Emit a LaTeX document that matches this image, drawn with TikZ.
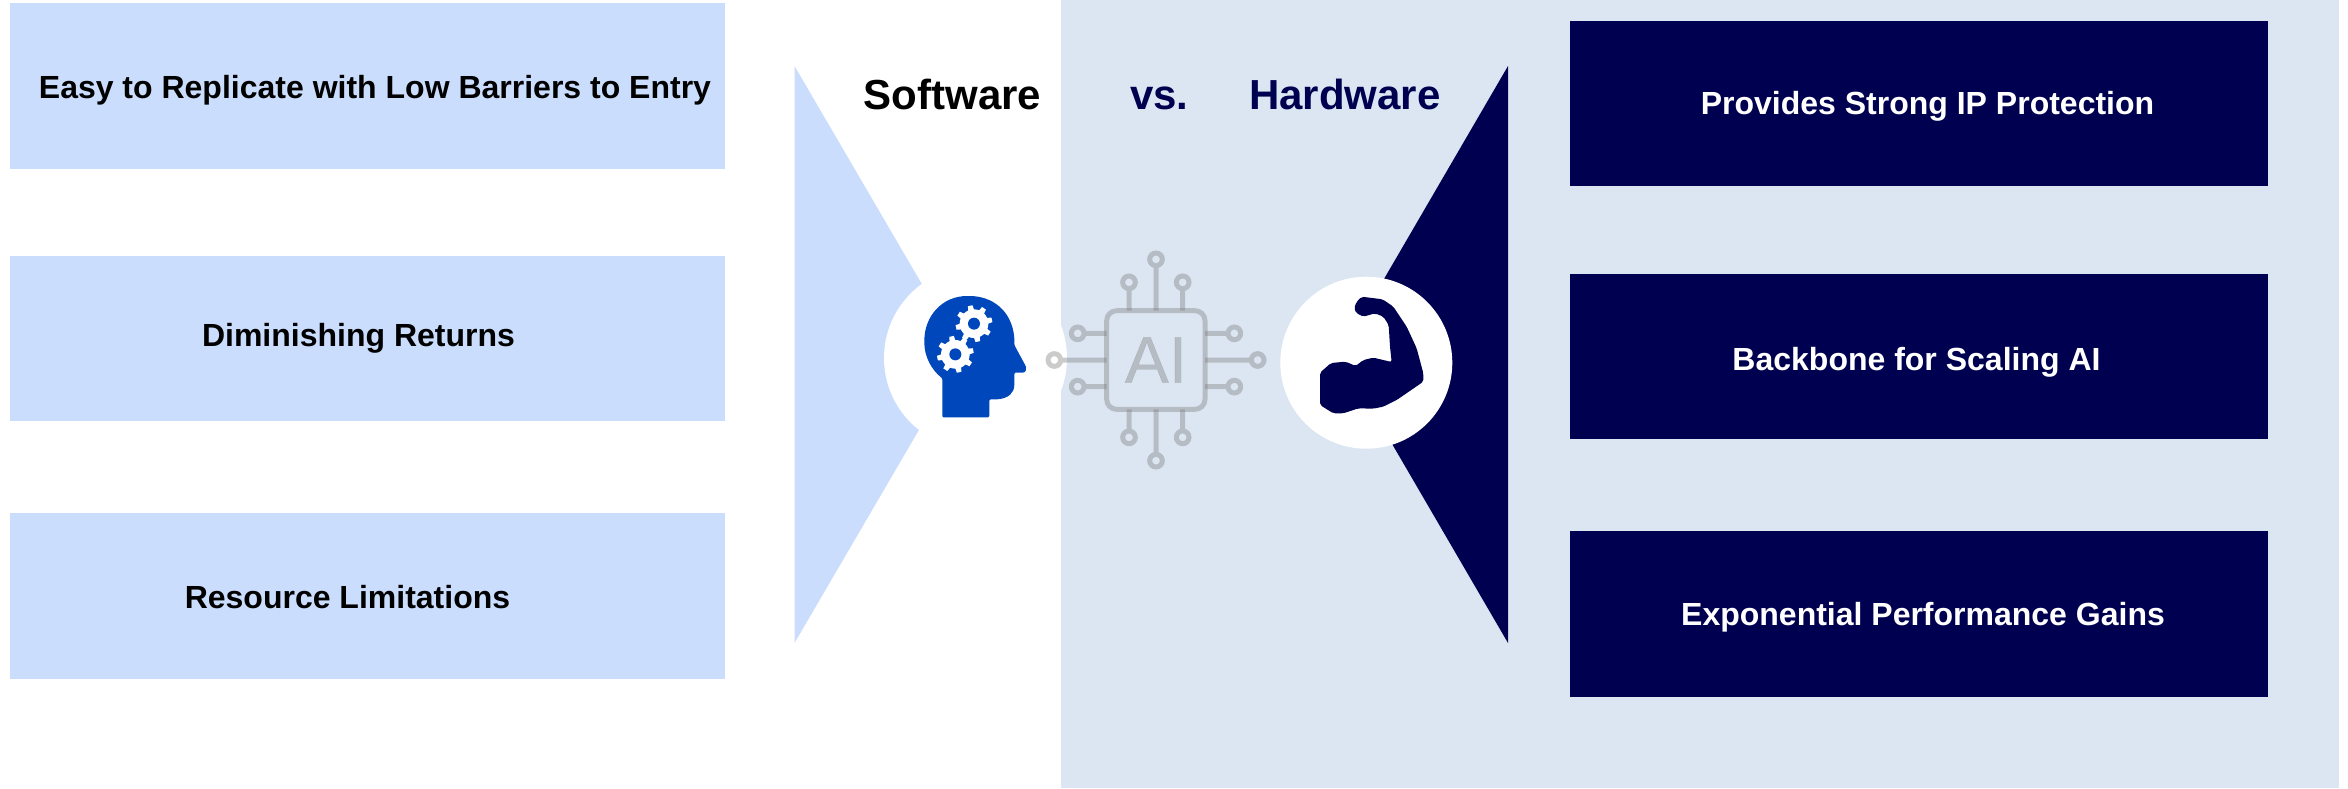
\documentclass[tikz,border=0pt]{standalone}
\usepackage{fontspec}
\setmainfont{Liberation Sans}
\newfontfamily\aifont[FakeBold=0.3]{Liberation Sans}
\definecolor{lightblue}{HTML}{CBDDFD}
\definecolor{panelblue}{HTML}{DCE6F2}
\definecolor{navy}{HTML}{000050}
\definecolor{headblue}{HTML}{0047BB}
\definecolor{chipgrey}{HTML}{7E7E7E}
\tikzset{
  lbox/.style={draw=none,fill=lightblue},
  rbox/.style={draw=none,fill=navy},
  ltext/.style={font=\fontsize{32}{36}\selectfont\bfseries,text=black,inner sep=0pt},
  rtext/.style={font=\fontsize{32}{36}\selectfont\bfseries,text=white,inner sep=0pt},
  head/.style={font=\fontsize{42}{46}\selectfont\bfseries,inner sep=0pt,anchor=base west},
  chipline/.style={draw=chipgrey,draw opacity=.4,line width=5pt},
}
\newcommand{\gearshape}[2]{% centre, in zoom units
  \foreach \a in {0,45,...,315}{
    \fill[white,shift={(#1,#2)},rotate=\a+12] (-9,-40) -- (-7,-55) -- (7,-55) -- (9,-40) -- cycle;
  }
  \fill[white] (#1,#2) circle[radius=43];
  \fill[headblue] (#1,#2) circle[radius=18];
}
\begin{document}
\begin{tikzpicture}[x=1pt,y=-1pt]
\useasboundingbox (0,0) rectangle (2348,788);
\fill[white] (0,0) rectangle (2348,788);
\fill[panelblue] (1061,0) rectangle (2339,788);
% left boxes
\path[lbox] (10,3) rectangle (725,169);
\path[lbox] (10,256) rectangle (725,421);
\path[lbox] (10,513) rectangle (725,679);
% right boxes
\path[rbox] (1570,21) rectangle (2268,186);
\path[rbox] (1570,274) rectangle (2268,439);
\path[rbox] (1570,531) rectangle (2268,697);
% wedges
\fill[lightblue] (794.5,66) -- (963,354.5) -- (794.5,643) -- cycle;
\fill[navy] (1508,66) -- (1340,354.5) -- (1508,643) -- cycle;
% white discs
\fill[white] (975.5,358) circle[radius=91.5];
\fill[white] (1366.3,362.7) circle[radius=86];
% labels
\node[ltext] (l1) at (375,90) {Easy to Replicate with Low Barriers to Entry};
\node[ltext] (l2) at (358.5,338) {Diminishing Returns};
\node[ltext] (l3) at (347.5,597) {Resource Limitations};
\node[rtext] (r1) at (1927.5,106) {Provides Strong IP Protection};
\node[rtext] (r2) at (1916.5,362) {Backbone for Scaling AI};
\node[rtext] (r3) at (1923,617) {Exponential Performance Gains};
\node[head,text=black] (sw) at (863.5,109.5) {Software};
\node[head,text=navy] (vs) at (1130,109.5) {vs.};
\node[head,text=navy] (hw) at (1249,109.5) {Hardware};
% head icon
\begin{scope}[shift={(860,260)},x=.33333pt,y=-.33333pt]
\fill[headblue,rounded corners=1.2pt] (247,472) -- (388,472) -- (388,418) -- (412,418)
  .. controls (445,414) and (463,400) .. (463,370) -- (463,338) -- (488,338)
  .. controls (498,336) and (500,325) .. (496,316) -- (463,255) -- (463,235)
  .. controls (455,150) and (395,108) .. (325,108)
  .. controls (245,108) and (193,170) .. (193,245)
  .. controls (193,290) and (215,330) .. (247,355) -- cycle;
\gearshape{342}{191}
\gearshape{286}{283}
\end{scope}
% chip icon
\begin{scope}[shift={(1030,240)},x=.33333pt,y=-.33333pt]
\draw[chipline,rounded corners=10pt]
  (230,212) rectangle (525,508);
\draw[chipline]
  (378,212) -- (378,78) (378,58) circle[radius=19]
  (297,212) -- (297,147) (297,127) circle[radius=19]
  (458,212) -- (458,147) (458,127) circle[radius=19]
  (378,508) -- (378,642) (378,662) circle[radius=19]
  (297,508) -- (297,573) (297,592) circle[radius=19]
  (458,508) -- (458,573) (458,592) circle[radius=19]
  (230,360) -- (93,360) (73,360) circle[radius=19]
  (230,280) -- (163,280) (143,280) circle[radius=19]
  (230,440) -- (163,440) (143,440) circle[radius=19]
  (525,360) -- (663,360) (683,360) circle[radius=19]
  (525,280) -- (593,280) (613,280) circle[radius=19]
  (525,440) -- (593,440) (613,440) circle[radius=19];
\node[inner sep=0pt,text=chipgrey,text opacity=.4,font=\fontsize{66}{70}\aifont] (ai) at (378,360) {AI};
\end{scope}
% muscle icon
\begin{scope}[shift={(1260,260)},x=.33333pt,y=-.33333pt]
\fill[navy,rounded corners=2pt] (180,338) -- (213,309) -- (257,305) -- (287,318) -- (310,300) -- (340,293)
  -- (395,306) -- (390,260) -- (386,195) -- (370,170) -- (345,160) -- (310,170) -- (290,160) -- (282,145)
  -- (290,125) -- (305,110) -- (368,118) -- (400,140) -- (440,200) -- (470,265) -- (490,340) -- (490,365)
  -- (410,420) -- (370,440) -- (340,446) -- (295,445) -- (250,460) -- (220,460) -- (180,435) -- cycle;
\end{scope}
\end{tikzpicture}
\end{document}
